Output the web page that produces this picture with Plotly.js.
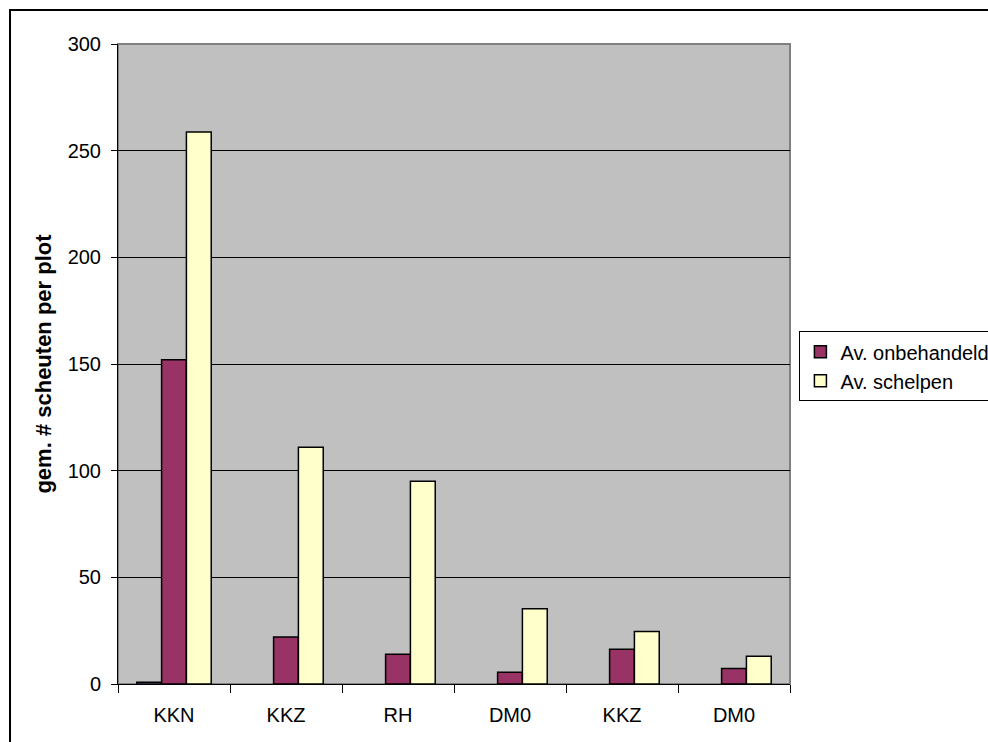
<!DOCTYPE html>
<html>
<head>
<meta charset="utf-8">
<script src="https://cdn.plot.ly/plotly-3.0.1.min.js"></script>
<style>
html,body{margin:0;padding:0;background:#fff;}
#chart{width:988px;height:742px;}
</style>
</head>
<body>
<div id="chart"></div>
<script>
// Data
var categories = ["KKN", "KKZ", "RH", "DM0", "KKZ", "DM0"];
var hiddenSeries = [0.8, null, null, null, null, null];
var onbehandeld = [152, 22, 14, 5.5, 16.3, 7.3];
var schelpen = [258.7, 111, 95, 35.3, 24.6, 13];
var seriesNames = ["Series 1", "Av. onbehandeld", "Av. schelpen"];
var yTicks = [0, 50, 100, 150, 200, 250, 300];

var xIdx = categories.map(function (c, i) { return i; });
var font = "Arial, 'Liberation Sans', sans-serif";

var line = {color: "#000000", width: 1.5};
var traces = [
  {type: "bar", name: seriesNames[0], x: xIdx, y: hiddenSeries, showlegend: false,
   marker: {color: "#9999FF", line: line}, hoverinfo: "skip"},
  {type: "bar", name: seriesNames[1], x: xIdx, y: onbehandeld,
   marker: {color: "#993366", line: line}},
  {type: "bar", name: seriesNames[2], x: xIdx, y: schelpen,
   marker: {color: "#FFFFCC", line: line}}
];

var layout = {
  width: 988, height: 742,
  margin: {l: 118, r: 198, t: 44, b: 58, autoexpand: false},
  paper_bgcolor: "#ffffff",
  plot_bgcolor: "#C0C0C0",
  font: {family: font, size: 20, color: "#000"},
  barmode: "group",
  bargap: 0.335,
  bargroupgap: 0,
  xaxis: {
    range: [-0.5, 5.5],
    tickmode: "array",
    tickvals: xIdx,
    ticktext: categories,
    ticks: "outside", ticklen: 10, tickcolor: "rgba(0,0,0,0)",
    ticklabelstandoff: 3,
    tickfont: {family: font, size: 20},
    showline: true, linecolor: "#000", linewidth: 1,
    showgrid: false, zeroline: false,
    minor: {tick0: -0.5, dtick: 1, ticks: "outside", ticklen: 8, tickcolor: "#000", tickwidth: 1, showgrid: false}
  },
  yaxis: {
    range: [0, 300],
    tickmode: "array", tickvals: yTicks,
    ticks: "outside", ticklen: 6, tickcolor: "#000", tickwidth: 1,
    ticklabelstandoff: 6,
    tickfont: {family: font, size: 20},
    showline: true, linecolor: "#000", linewidth: 1,
    showgrid: true, gridcolor: "#000", gridwidth: 1,
    zeroline: false,
    title: {text: "gem. # scheuten per plot", font: {family: font, size: 22, weight: "bold"}, standoff: 9}
  },
  legend: {
    x: 1.014, xanchor: "left", y: 0.551, yanchor: "top",
    bgcolor: "#fff", bordercolor: "#000", borderwidth: 1,
    font: {family: font, size: 20},
    traceorder: "normal"
  },
  shapes: [
    {type: "rect", xref: "paper", yref: "paper", x0: 0, x1: 1, y0: 0, y1: 1,
     line: {color: "#808080", width: 2}, fillcolor: "rgba(0,0,0,0)", layer: "below"},
    {type: "rect", xref: "paper", yref: "paper", x0: -0.1607, x1: 1.35, y0: -0.2, y1: 1.0531,
     line: {color: "#000", width: 2}, fillcolor: "rgba(0,0,0,0)"}
  ]
};

Plotly.newPlot("chart", traces, layout, {displayModeBar: false, staticPlot: true});
</script>
</body>
</html>
